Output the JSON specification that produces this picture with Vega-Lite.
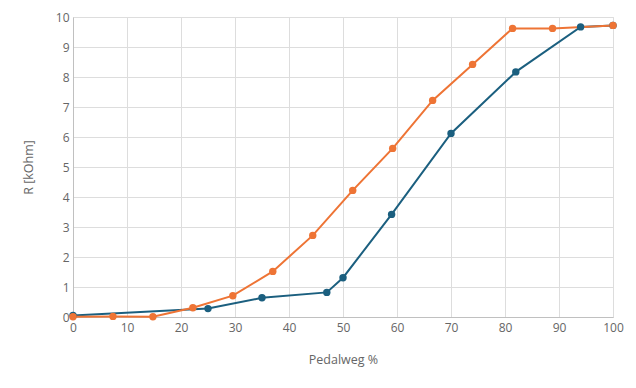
{
  "$schema": "https://vega.github.io/schema/vega-lite/v6.json",
  "autosize": "none",
  "width": 540,
  "height": 300,
  "padding": {"left": 73, "top": 17, "right": 23, "bottom": 71},
  "background": "white",
  "config": {
    "font": "Open Sans",
    "view": {"stroke": "#dddddd", "strokeWidth": 1},
    "axis": {
      "gridColor": "#dddddd",
      "gridWidth": 1,
      "domainColor": "#c0c0c0",
      "domainWidth": 1,
      "ticks": false,
      "labelColor": "#666666",
      "labelFont": "Open Sans",
      "labelFontSize": 12,
      "titleColor": "#666666",
      "titleFont": "Open Sans",
      "titleFontSize": 12.5,
      "titleFontWeight": "normal"
    }
  },
  "data": {
    "values": [
      {"s": "A", "x": 0, "y": 0.05},
      {"s": "A", "x": 25, "y": 0.28},
      {"s": "A", "x": 35, "y": 0.64},
      {"s": "A", "x": 47, "y": 0.82},
      {"s": "A", "x": 50, "y": 1.31},
      {"s": "A", "x": 59, "y": 3.42},
      {"s": "A", "x": 70, "y": 6.12},
      {"s": "A", "x": 82, "y": 8.17},
      {"s": "A", "x": 94, "y": 9.67},
      {"s": "A", "x": 100, "y": 9.72},
      {"s": "B", "x": 0, "y": 0.01},
      {"s": "B", "x": 7.4, "y": 0.02},
      {"s": "B", "x": 14.8, "y": 0.01},
      {"s": "B", "x": 22.2, "y": 0.31},
      {"s": "B", "x": 29.6, "y": 0.71},
      {"s": "B", "x": 37, "y": 1.52},
      {"s": "B", "x": 44.4, "y": 2.72},
      {"s": "B", "x": 51.8, "y": 4.22},
      {"s": "B", "x": 59.2, "y": 5.62},
      {"s": "B", "x": 66.6, "y": 7.22},
      {"s": "B", "x": 74, "y": 8.42},
      {"s": "B", "x": 81.4, "y": 9.62},
      {"s": "B", "x": 88.8, "y": 9.62},
      {"s": "B", "x": 100, "y": 9.72}
    ]
  },
  "encoding": {
    "x": {
      "field": "x", "type": "quantitative",
      "scale": {"domain": [0, 100], "nice": false, "zero": false},
      "axis": {"title": "Pedalweg %", "values": [0,10,20,30,40,50,60,70,80,90,100], "labelPadding": 5, "titlePadding": 20, "labelFlush": false}
    },
    "y": {
      "field": "y", "type": "quantitative",
      "scale": {"domain": [0, 10], "nice": false},
      "axis": {"title": "R [kOhm]", "values": [0,1,2,3,4,5,6,7,8,9,10], "labelPadding": 4, "titlePadding": 20, "labelFlush": false}
    },
    "color": {
      "field": "s", "type": "nominal",
      "scale": {"domain": ["A", "B"], "range": ["#1b5f7f", "#ee7435"]},
      "legend": null
    }
  },
  "layer": [
    {"mark": {"type": "line", "strokeWidth": 2, "clip": false}},
    {"mark": {"type": "point", "filled": true, "size": 55, "opacity": 1, "clip": false}}
  ]
}
